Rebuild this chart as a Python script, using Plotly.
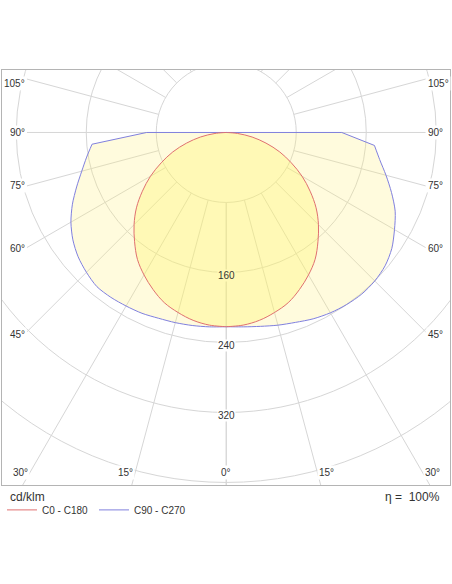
import numpy as np
import plotly.graph_objects as go

# ── Data (cd/klm) ───────────────────────────────────────────────────────────────
gamma = [0, 5, 10, 15, 20, 25, 30, 35, 40, 45, 50, 55, 60, 65, 70, 75, 80, 85, 90]
c0_c180 = [222, 221, 218, 213, 207, 198, 188, 177, 163, 149, 134, 117, 100, 82, 65, 47, 30, 13, 0]
c90 = [222, 223, 225, 228, 231, 235, 238, 240, 241, 240, 237, 231, 222, 213, 201, 189, 178, 170, 132]
c270 = [222, 223, 224, 225, 226, 228, 229, 230, 230, 226, 221, 214, 205, 194, 182, 171, 162, 154, 91]

ring_values = [80, 160, 240, 320, 400, 480]
ring_labels = [160, 240, 320]
spoke_angles = [0, 15, 30, 45, 60, 75, 90, 105, 120, 135, 150, 165, 180]
angle_labels = [0, 15, 30, 45, 60, 75, 90, 105]

# ── Style ───────────────────────────────────────────────────────────────────────
FONT = "Arial, Liberation Sans, sans-serif"
TEXT = "#333333"
GRID = "#d6d6d6"
RED = "#e07070"
BLUE = "#8080dd"
X_RANGE = [-256.3, 255.7]
Y_RANGE = [-402.9, 71.4]
X_IN, Y_IN = 227.8, -389.1  # label inset (data units)
LABEL_NUDGE = {45: -3, 60: -1, 105: -4}  # px


def half_curve(values, side):
    g = np.radians(gamma)
    v = np.asarray(values, dtype=float)
    return side * v * np.sin(g), -v * np.cos(g)


def both_sides(left, right):
    xl, yl = half_curve(left, -1)
    xr, yr = half_curve(right, 1)
    x = np.concatenate([xl[::-1], xr, xl[-1:]])  # closed outline
    y = np.concatenate([yl[::-1], yr, yl[-1:]])
    return x, y


fig = go.Figure()

x_blue, y_blue = both_sides(c270, c90)
x_red, y_red = both_sides(c0_c180, c0_c180)

# fills
fig.add_trace(go.Scatter(
    x=x_blue, y=y_blue, mode="lines", fill="toself",
    fillcolor="rgba(255,240,120,0.25)", line=dict(width=0),
    showlegend=False, hoverinfo="skip",
))
fig.add_trace(go.Scatter(
    x=x_red, y=y_red, mode="lines", fill="toself",
    fillcolor="rgba(255,245,100,0.32)", line=dict(width=0, shape="spline"),
    showlegend=False, hoverinfo="skip",
))

# C90 - C270 outline: smooth body, straight segments near the horizon
n = len(gamma)
body = slice(1, 2 * n - 1)      # left 85° .. right 85°
top = [2 * n - 2, 2 * n - 1, 0, 1]  # right 85° -> right 90° -> left 90° -> left 85°
fig.add_trace(go.Scatter(
    x=x_blue[body], y=y_blue[body], mode="lines",
    line=dict(color=BLUE, width=1, shape="spline", smoothing=0.8),
    showlegend=False, hoverinfo="skip",
))
fig.add_trace(go.Scatter(
    x=x_blue[top], y=y_blue[top], mode="lines",
    line=dict(color=BLUE, width=1),
    showlegend=False, hoverinfo="skip",
))
fig.add_trace(go.Scatter(
    x=x_red, y=y_red, mode="lines",
    line=dict(color=RED, width=1, shape="spline"),
    showlegend=False, hoverinfo="skip",
))

# legend entries
fig.add_trace(go.Scatter(x=[None], y=[None], mode="lines", name="C0 - C180",
                         line=dict(color=RED, width=1)))
fig.add_trace(go.Scatter(x=[None], y=[None], mode="lines", name="C90 - C270",
                         line=dict(color=BLUE, width=1)))

# ── Grid: rings and spokes ──────────────────────────────────────────────────────
shapes = []
for r in ring_values:
    shapes.append(dict(type="circle", xref="x", yref="y", x0=-r, y0=-r, x1=r, y1=r,
                       line=dict(color=GRID, width=1), layer="below"))

r0 = ring_values[0]
for a in spoke_angles:
    g = np.radians(a)
    s, c = np.sin(g), np.cos(g)
    r_end = 700
    if a in angle_labels and s > 0 and abs(X_IN / s * c) < -Y_IN:
        r_end = X_IN / s
    for side in (-1, 1):
        shapes.append(dict(type="line", xref="x", yref="y",
                           x0=side * r0 * s, y0=-r0 * c,
                           x1=side * r_end * s, y1=-r_end * c,
                           line=dict(color=GRID, width=1), layer="below"))

# ── Labels ──────────────────────────────────────────────────────────────────────
annotations = []
for v in ring_labels:
    annotations.append(dict(x=0, y=-v, xref="x", yref="y", text=str(v), showarrow=False,
                            yshift=-3, font=dict(size=10, color=TEXT, family=FONT),
                            bgcolor="rgb(255,249,182)" if v < 200 else "white", borderpad=0))

for a in angle_labels:
    g = np.radians(a)
    s, c = np.sin(g), np.cos(g)
    if s > 0 and abs(X_IN / s * c) < -Y_IN:
        px, py = X_IN, -X_IN / s * c
    else:
        px, py = -Y_IN * s / c, Y_IN
    sides = (0,) if a == 0 else (-1, 1)
    for side in sides:
        anchor = "center" if side == 0 else ("right" if side < 0 else "left")
        annotations.append(dict(x=side * px if side else 0, y=py, xref="x", yref="y",
                                text=f"{a}°", showarrow=False, xanchor=anchor, yanchor="middle",
                                yshift=LABEL_NUDGE.get(a, 0),
                                font=dict(size=10, color=TEXT, family=FONT),
                                bgcolor="white", borderpad=1))

annotations.append(dict(x=0.0134, y=-0.030, xref="paper", yref="paper", text="cd/klm",
                        showarrow=False, xanchor="left", yanchor="middle",
                        font=dict(size=12, color=TEXT, family=FONT)))
annotations.append(dict(x=0.9815, y=-0.030, xref="paper", yref="paper", text="η =  100%",
                        showarrow=False, xanchor="right", yanchor="middle",
                        font=dict(size=12, color=TEXT, family=FONT)))

axis_common = dict(showgrid=False, zeroline=False, showticklabels=False, ticks="",
                   showline=True, mirror=True, linecolor="#b4b4b4", linewidth=1,
                   fixedrange=True)

fig.update_layout(
    width=452, height=584,
    margin=dict(l=2, r=2, t=70, b=99),
    paper_bgcolor="white", plot_bgcolor="white",
    font=dict(family=FONT, color=TEXT, size=10),
    xaxis=dict(range=X_RANGE, **axis_common),
    yaxis=dict(range=Y_RANGE, **axis_common),
    shapes=shapes,
    annotations=annotations,
    showlegend=True,
    legend=dict(orientation="h", x=0, y=-0.060, xanchor="left", yanchor="middle",
                font=dict(size=10, color=TEXT, family=FONT),
                entrywidth=47, entrywidthmode="pixels", bgcolor="rgba(0,0,0,0)"),
)

fig.write_html("out.html", config={"displayModeBar": False},
               post_script="document.body.style.margin='0';")
